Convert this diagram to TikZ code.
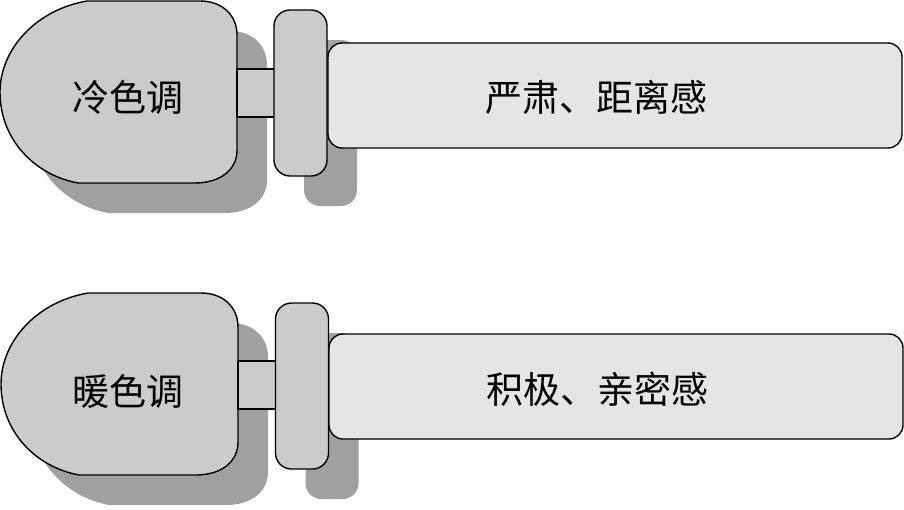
\documentclass[tikz,border=0pt]{standalone}
\usepackage{fontspec}
\newfontfamily\cjk{Noto Sans CJK SC}
\usetikzlibrary{shadows}
\definecolor{headgray}{RGB}{203,203,203}
\definecolor{boxgray}{RGB}{229,229,229}
\definecolor{shadowgray}{RGB}{160,160,160}
\newcommand\headoutline{(87,1) -- (200,1) .. controls (222,1) and (237,15) .. (237,35) -- (237,150) .. controls (237,170) and (220,183) .. (195,183) -- (78,183) .. controls (35,175) and (0,140) .. (0,92) .. controls (0,50) and (35,10) .. (87,1) -- cycle}

\begin{document}
\begin{tikzpicture}[x=1pt,y=-1pt,
  outline/.style={draw=black,line width=1.4pt},
  cast/.style={drop shadow={shadow xshift=30pt,shadow yshift=-30pt,fill=shadowgray,opacity=1}},
  head/.style={outline,fill=headgray,cast},
  neck/.style={outline,fill=headgray,minimum width=38pt,minimum height=48pt,inner sep=0pt},
  ring/.style={outline,fill=headgray,cast,rounded corners=16pt,minimum width=53pt,minimum height=166pt,inner sep=0pt},
  descbox/.style={outline,fill=boxgray,rounded corners=14pt,minimum width=574pt,minimum height=105pt,inner sep=0pt},
  word/.style={font=\cjk\fontsize{37}{40}\selectfont,inner sep=0pt}]
  \useasboundingbox (0,0) rectangle (904,509);

  \draw[head] \headoutline;
  \node[word] (cold) at (128,97) {冷色调};
  \node[neck] (cold-neck) at (256,93) {};
  \node[ring] (cold-ring) at (300.5,93) {};
  \node[descbox] (cold-box) at (615,95.5) {};
  \node[word] (cold-desc) at (596,97) {严肃、距离感};

  \begin{scope}[shift={(1,292)}]
    \draw[head] \headoutline;
    \node[word] (warm) at (127,99) {暖色调};
    \node[neck] (warm-neck) at (256,93) {};
    \node[ring] (warm-ring) at (301,94) {};
    \node[descbox] (warm-box) at (615,94.5) {};
    \node[word] (warm-desc) at (596,97) {积极、亲密感};
  \end{scope}
\end{tikzpicture}
\end{document}
